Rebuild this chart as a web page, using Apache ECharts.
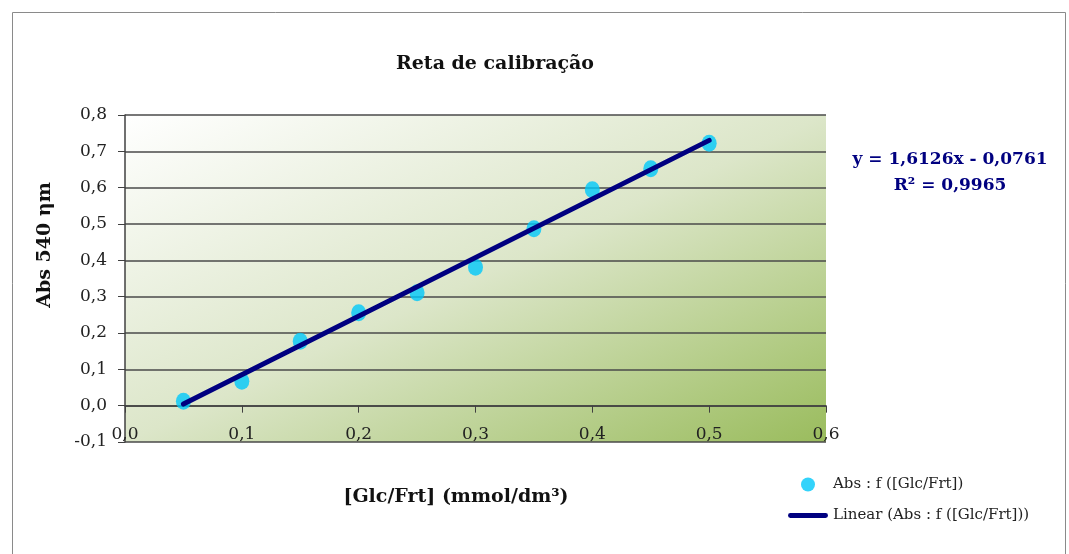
<!DOCTYPE html>
<html>
<head>
<meta charset="utf-8">
<script src="https://cdn.jsdelivr.net/npm/echarts@6/dist/echarts.min.js"></script>
<style>
html,body{margin:0;padding:0;background:#fff;}
#c{width:1069px;height:554px;}
</style>
</head>
<body>
<div id="c"></div>
<script>
// Data
const concentrations = [0.05, 0.10, 0.15, 0.20, 0.25, 0.30, 0.35, 0.40, 0.45, 0.50];
const absorbances    = [0.012, 0.067, 0.177, 0.256, 0.311, 0.381, 0.487, 0.594, 0.652, 0.722];
const trendX = [0.05, 0.50];
const trendY = [0.0045, 0.7302];
const titleText = 'Reta de calibração';
const xName = '[Glc/Frt] (mmol/dm³)';
const yName = 'Abs 540 ηm';
const equationLines = ['y = 1,6126x - 0,0761', 'R² = 0,9965'];
const seriesNames = ['Abs : f ([Glc/Frt])', 'Linear (Abs : f ([Glc/Frt]))'];

const SERIF = '"DejaVu Serif", "Liberation Serif", serif';
const fmt = v => (Math.round(v * 10) / 10).toFixed(1).replace('.', ',');

const chart = echarts.init(document.getElementById('c'));
chart.setOption({
  animation: false,
  backgroundColor: '#ffffff',
  title: {
    text: titleText, left: 490, top: 50, textAlign: 'center',
    textStyle: {fontFamily: SERIF, fontWeight: 'bold', fontSize: 19, color: '#111'}
  },
  grid: {
    left: 125, right: 243, top: 115, bottom: 112, show: true, borderWidth: 0,
    backgroundColor: new echarts.graphic.LinearGradient(0, 0, 0.357, 1.643, [
      {offset: 0, color: '#ffffff'},
      {offset: 0.5, color: '#dce6c9'},
      {offset: 1, color: '#9abc5d'}
    ])
  },
  legend: {
    orient: 'vertical', left: 788, top: 477, padding: 0,
    itemWidth: 40, itemHeight: 14, itemGap: 16,
    textStyle: {fontFamily: SERIF, fontSize: 15, color: '#222'},
    data: [
      {name: seriesNames[0], icon: 'circle'},
      {name: seriesNames[1], icon: 'path://M2,0 L38,0 A2.5,2.5 0 0 1 38,5 L2,5 A2.5,2.5 0 0 1 2,0 Z',
       itemStyle: {color: '#000080'}}
    ]
  },
  xAxis: {
    type: 'value', min: 0, max: 0.6, interval: 0.1,
    axisLine: {show: true, onZero: true, lineStyle: {color: '#404040', width: 1.5}},
    axisTick: {show: true, length: 7, lineStyle: {color: '#404040'}},
    axisLabel: {formatter: fmt, margin: -16, fontFamily: SERIF, fontSize: 17, color: '#222'},
    splitLine: {show: false}
  },
  yAxis: {
    type: 'value', min: -0.1, max: 0.8, interval: 0.1,
    axisLine: {show: true, onZero: false, lineStyle: {color: '#404040', width: 1.5}},
    axisTick: {show: true, length: 7, lineStyle: {color: '#404040'}},
    axisLabel: {formatter: fmt, margin: 18, fontFamily: SERIF, fontSize: 17, color: '#222'},
    splitLine: {show: true, lineStyle: {color: '#4a4a4a', width: 1.5}}
  },
  series: [
    {
      name: seriesNames[0], type: 'scatter', symbol: 'circle', symbolSize: [15, 17],
      itemStyle: {color: '#00c8fa'}, z: 2,
      data: concentrations.map((x, i) => [x, absorbances[i]])
    },
    {
      name: seriesNames[1], type: 'line', showSymbol: false, symbol: 'none', z: 3,
      lineStyle: {color: '#000080', width: 5, cap: 'round'}, itemStyle: {color: '#000080'},
      data: trendX.map((x, i) => [x, trendY[i]])
    }
  ],
  graphic: [
    {type: 'rect', shape: {x: 12.5, y: 12.5, width: 1053, height: 560},
     style: {fill: null, stroke: '#8a8a8a', lineWidth: 1}, silent: true},
    {type: 'text', x: 45, y: 245, rotation: Math.PI / 2,
     style: {text: yName, fontFamily: SERIF, fontWeight: 'bold', fontSize: 19, fill: '#111',
             textAlign: 'center', textVerticalAlign: 'middle'}},
    {type: 'text', x: 456, y: 497,
     style: {text: xName, fontFamily: SERIF, fontWeight: 'bold', fontSize: 19, fill: '#111',
             textAlign: 'center', textVerticalAlign: 'middle'}},
    {type: 'text', x: 950, y: 160,
     style: {text: equationLines[0], fontFamily: SERIF, fontWeight: 'bold', fontSize: 17, fill: '#000080',
             textAlign: 'center', textVerticalAlign: 'middle'}},
    {type: 'text', x: 950, y: 186,
     style: {text: equationLines[1], fontFamily: SERIF, fontWeight: 'bold', fontSize: 17, fill: '#000080',
             textAlign: 'center', textVerticalAlign: 'middle'}}
  ]
});
</script>
</body>
</html>
